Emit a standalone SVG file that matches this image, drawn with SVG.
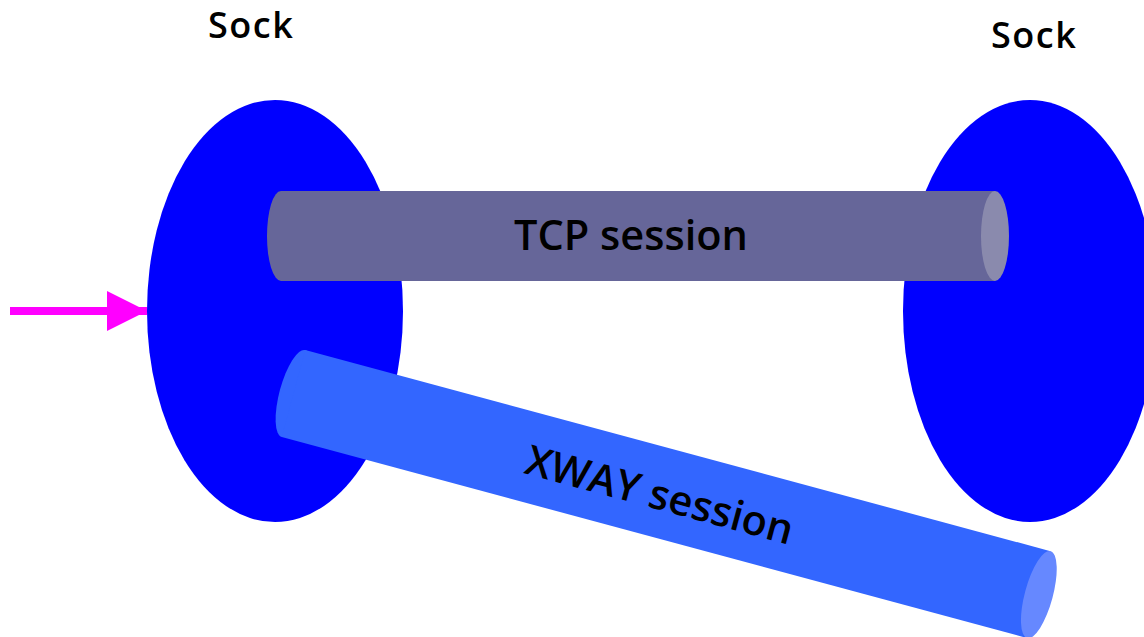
<svg xmlns="http://www.w3.org/2000/svg" width="1144" height="637" viewBox="0 0 1144 637">
  <style>
    .sock { fill: #0000ff; }
    .label { font-family: "Open Sans", "DejaVu Sans", sans-serif; fill: #000; }
    .sock-label { font-size: 36px; font-weight: 600; letter-spacing: 1.5px; }
    .pipe-label { font-size: 41.5px; font-weight: 600; text-anchor: middle; }
    .tcp-body { fill: #666699; }
    .tcp-cap { fill: #8a8aad; }
    .xway-body { fill: #3366ff; }
    .xway-cap { fill: #6688ff; }
  </style>
  <defs>
    <marker id="arrowhead" markerWidth="40" markerHeight="40" refX="40" refY="20" orient="auto" markerUnits="userSpaceOnUse">
      <path d="M0,0 L40,20 L0,40 Z" fill="#ff00ff"/>
    </marker>
  </defs>
  <rect width="1144" height="637" fill="#ffffff"/>

  <!-- socket end points -->
  <g id="sock-left">
    <ellipse class="sock" cx="275" cy="311" rx="128" ry="211"/>
    <text class="label sock-label" x="208" y="38">Sock</text>
  </g>
  <g id="sock-right">
    <ellipse class="sock" cx="1030" cy="311" rx="127" ry="211"/>
    <text class="label sock-label" x="991" y="48">Sock</text>
  </g>

  <!-- TCP session pipe -->
  <g id="tcp-session">
    <ellipse class="tcp-body" cx="281" cy="236" rx="14" ry="45"/>
    <rect class="tcp-body" x="281" y="191" width="714" height="90"/>
    <ellipse class="tcp-cap" cx="995" cy="236" rx="14" ry="45"/>
    <text class="label pipe-label" x="631" y="250">TCP session</text>
  </g>

  <!-- XWAY session pipe, tilted -->
  <g id="xway-session" transform="translate(293.5 393.5) rotate(15.1)">
    <ellipse class="xway-body" cx="0" cy="0" rx="14" ry="45"/>
    <rect class="xway-body" x="0" y="-45" width="772" height="90"/>
    <ellipse class="xway-cap" cx="772" cy="0" rx="14" ry="45"/>
    <text class="label pipe-label" x="380" y="17">XWAY session</text>
  </g>

  <g id="connectors">
    <line x1="10" y1="311" x2="147" y2="311" stroke="#ff00ff" stroke-width="8" marker-end="url(#arrowhead)"/>
  </g>
</svg>
